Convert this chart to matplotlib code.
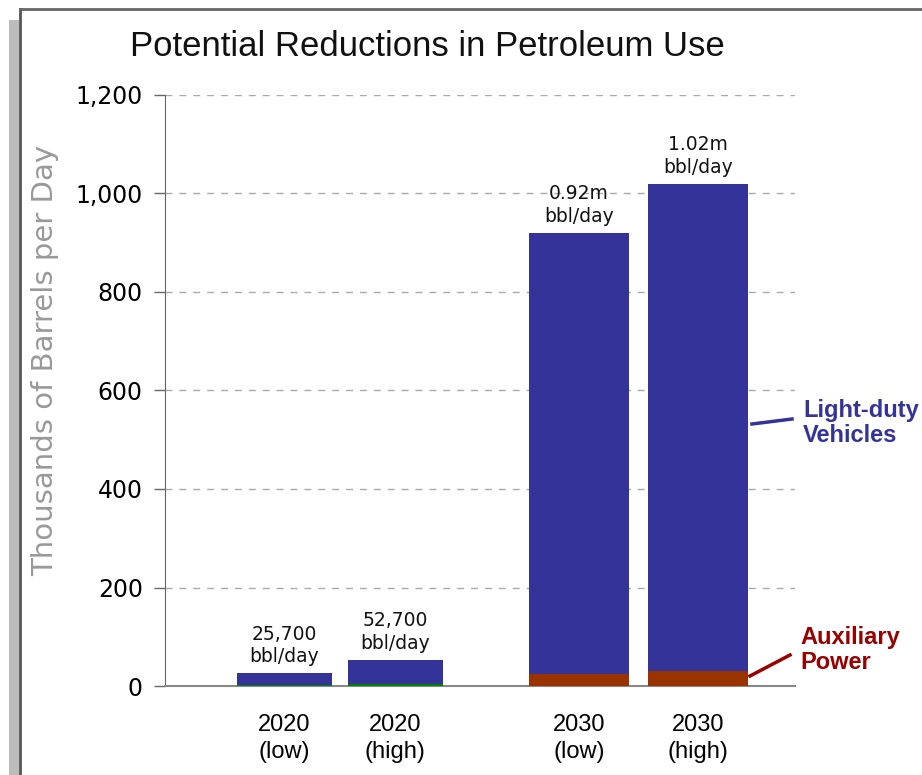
import matplotlib
matplotlib.use("Agg")
import matplotlib.pyplot as plt
from matplotlib.patches import Rectangle
from matplotlib.lines import Line2D
import numpy as np

# Stacked bars: small auxiliary-power base plus light-duty vehicle savings
categories = ["2020\n(low)", "2020\n(high)", "2030\n(low)", "2030\n(high)"]
totals = [25.7, 52.7, 920, 1020]          # thousand bbl/day
aux_power = [2, 4, 25, 30]                 # thousand bbl/day
bar_labels = ["25,700\nbbl/day", "52,700\nbbl/day", "0.92m\nbbl/day", "1.02m\nbbl/day"]
yticks = [0, 200, 400, 600, 800, 1000, 1200]
ytick_labels = ["0", "200", "400", "600", "800", "1,000", "1,200"]

ldv = [t - a for t, a in zip(totals, aux_power)]

W, H = 922, 775
fig = plt.figure(figsize=(W / 100, H / 100), dpi=100)

# slide frame: grey strip on the left and a dark rule along the top/left
fig.patches.append(Rectangle((9 / W, 0), 10 / W, (H - 20) / H, transform=fig.transFigure,
                             facecolor="#bdbdbd", edgecolor="none", zorder=0))
fig.lines.append(Line2D([20 / W, 20 / W], [0, (H - 9) / H], transform=fig.transFigure,
                        color="#555555", lw=2))
fig.lines.append(Line2D([20 / W, 1], [(H - 9) / H, (H - 9) / H], transform=fig.transFigure,
                        color="#666666", lw=2))

ax = fig.add_axes([165 / W, (H - 686) / H, (795 - 165) / W, (686 - 95) / H])

x = np.array([1.19, 2.30, 4.14, 5.33])
widths = [0.95, 0.95, 1.0, 1.0]
base_colors = ["#008000", "#008000", "#993300", "#993300"]

ax.bar(x, aux_power, width=widths, color=base_colors, zorder=3)
ax.bar(x, ldv, bottom=aux_power, width=widths, color="#333399", zorder=3)

for xi, t, lab in zip(x, totals, bar_labels):
    ax.annotate(lab, (xi, t), xytext=(0, 5), textcoords="offset points",
                ha="center", va="bottom", fontsize=13.5, linespacing=1.25,
                family="DejaVu Sans", color="#111111")

ax.set_xlim(0, 6.3)
ax.set_ylim(0, 1200)
ax.set_yticks(yticks)
ax.set_yticklabels(ytick_labels, fontsize=17, family="DejaVu Sans")
ax.set_xticks(x)
ax.set_xticklabels(categories, fontsize=17, family="Liberation Sans", linespacing=1.3)
ax.tick_params(axis="x", length=0, pad=20)
ax.tick_params(axis="y", length=8, width=1, color="#666666", pad=8)

ax.grid(axis="y", color="#aaaaaa", linestyle=(0, (5, 5)), lw=1)
ax.set_axisbelow(True)
for side in ["top", "right"]:
    ax.spines[side].set_visible(False)
ax.spines["left"].set_color("#666666")
ax.spines["bottom"].set_color("#888888")
ax.spines["bottom"].set_linewidth(1.5)

fig.text(427 / W, (H - 46) / H, "Potential Reductions in Petroleum Use",
         ha="center", va="center", fontsize=25,
         family="Liberation Sans", color="#111111")
fig.text(45 / W, (H - 360) / H, "Thousands of Barrels per Day", rotation=90,
         ha="center", va="center", fontsize=21, color="#999999", family="DejaVu Sans")

# series call-outs
fig.text(803 / W, (H - 423) / H, "Light-duty\nVehicles", ha="left", va="center",
         fontsize=17, fontweight="bold", color="#333399", family="Liberation Sans",
         linespacing=1.1)
fig.lines.append(Line2D([752 / W, 792 / W], [(H - 424) / H, (H - 419) / H],
                        transform=fig.transFigure, color="#333399", lw=2.5))
fig.text(800 / W, (H - 650) / H, "Auxiliary\nPower", ha="left", va="center",
         fontsize=17, fontweight="bold", color="#990000", family="Liberation Sans",
         linespacing=1.1)
fig.lines.append(Line2D([750 / W, 790 / W], [(H - 676) / H, (H - 655) / H],
                        transform=fig.transFigure, color="#990000", lw=2.5))

fig.savefig("out.png", dpi=100)
